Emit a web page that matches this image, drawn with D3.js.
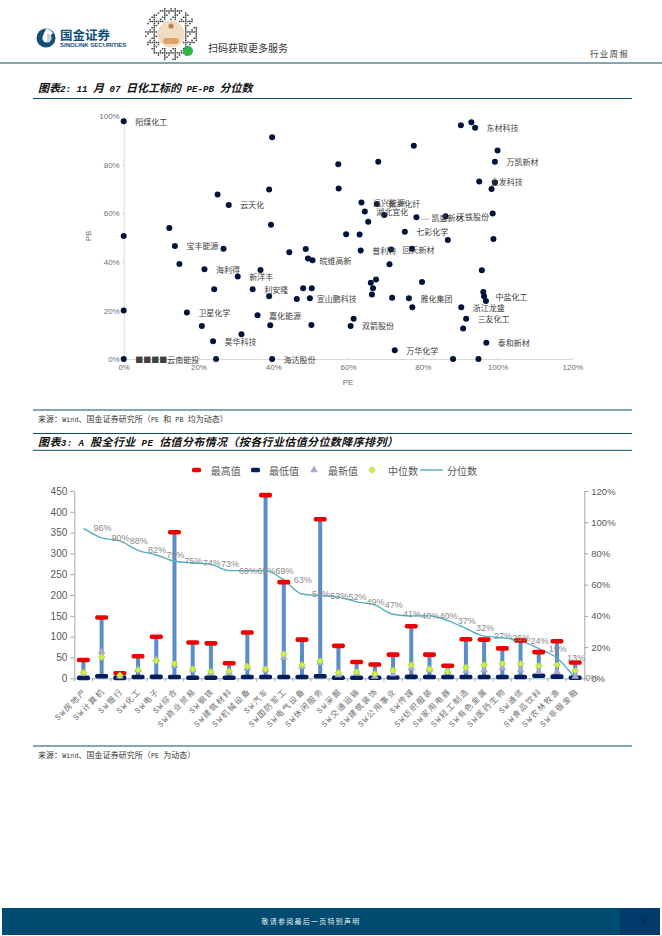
<!DOCTYPE html>
<html><head><meta charset="utf-8">
<script src="https://cdnjs.cloudflare.com/ajax/libs/d3/7.8.5/d3.min.js"></script>
<style>html,body{margin:0;padding:0;background:#fff}svg{display:block}</style></head>
<body><svg id="c" width="662" height="936"></svg>
<script>
// ---- Figure 2: scatter
const scatterPE=[0,39.7,57.4,25.1,38.9,57.5,28.1,12.2,39.4,0,59.5,13.7,26.7,44.3,48.7,90.2,93,94,77.6,68.1,100,99.3,95.1,99.3,98.4,63.6,67.7,64.5,69.7,65.4,78.3,86.1,98.7,63.1,75.2,86.7,98.9,63.4,71.5,77.1,14.9,21.6,30.5,36.6,49.3,50.5,24.2,34.5,38.9,48,50.3,46.3,49.8,0,16.9,35.8,20.9,39.2,50.2,31.5,23.9,0,24.7,39.7,71.1,95.8,67.5,66.1,66.7,66.4,79.8,71.8,76.3,77.2,96.2,96.4,96.9,90.3,91.6,61.5,60.7,90.8,97,72.5,88.1,94.9];
const scatterPB=[98,91.4,80.2,67.8,69.8,70.2,63.5,54,55.3,50.7,51.4,46.6,45.4,44,45.3,96.3,97.5,95.3,87.9,81.3,85.9,81.3,73.1,72.7,70,64.5,63.9,60.8,59.3,56.5,58.4,58.8,60,51.3,52.4,49,49.4,44.7,45.1,45.4,39.1,37,34,36.7,41.4,40.7,28.7,28.7,25.9,29.2,29.2,24.7,25,20,19.2,18,13.6,13.9,14,10.2,7.3,0,0,0,39,36.6,32.8,31.4,29.2,26.6,31.7,25.2,25,21.3,27.6,25.9,23.9,21.3,16.6,16.6,13.6,12.6,6.7,3.6,0,0];
const scatterNames=["阳煤化工","","","","","","云天化","","","","","宝丰能源","","","","","","东材科技","","","","万凯新材","金发科技","","","远兴能源","新乡化纤","湖北宜化","","","凯盛新材","天铁股份","","","七彩化学","","","普利特","回天新材","","","海利得","新洋丰","","","皖维高新","","利安隆","","","","","宣山鹏科技","","卫星化学","嘉化能源","","","","","昊华科技","■■■■云南能投","","海达股份","","","","","","","","","雅化集团","","","中盐化工","","浙江龙盛","三友化工","","双箭股份","","泰和新材","万华化学","",""];
const scatterXTicks=[0,20,40,60,80,100,120];
const scatterYTicks=[0,20,40,60,80,100];

// ---- Figure 3: industry PE distribution
const industries=["SW房地产","SW计算机","SW银行","SW化工","SW电子","SW综合","SW商业贸易","SW钢铁","SW建筑材料","SW机械设备","SW汽车","SW国防军工","SW电气设备","SW休闲服务","SW采掘","SW交通运输","SW建筑装饰","SW公用事业","SW传媒","SW纺织服装","SW家用电器","SW轻工制造","SW有色金属","SW医药生物","SW通信","SW食品饮料","SW农林牧渔","SW非银金融"];
const peMax=[44,146,12,53,100,351,86,84,36,110,440,231,93,382,78,39,33,57,125,57,30,94,93,72,91,63,89,38];
const peMin=[1,5,1,3,3.5,3,1.5,1.5,1.5,3,3,3,3,5,1.5,1.5,1.5,2,3.5,3,3,3,3,3,3,6,4,1.5];
const peLatest=[11,64,5,20,45,30,20,13,14,25,20,50,28,38,8,12,4,10,25,22,16,18,20,25,20,16,16,4];
const peMedian=[14,51,7,20,42,35,22,16,17,29,22,58,32,41,13.5,15,10.5,19,32,22,16,26,32,35,35,30,32,18];
const pePercentile=[96,90,88,82,79,75,74,73,69,69,69,63,54,53,52,49,47,41,40,40,37,32,27,26,24,19,13,0];
const leftTicks=[0,50,100,150,200,250,300,350,400,450];
const rightTicks=[0,20,40,60,80,100,120];
const legendItems=["最高值","最低值","最新值","中位数","分位数"];

const svg=d3.select("#c");
const teal="#0f4a66", CJK='"Noto Sans CJK SC"', LAT='"Liberation Sans",'+CJK, MONO='"Liberation Mono",'+CJK;
function txt(x,y,s,o={}){return svg.append("text").attr("x",x).attr("y",y).attr("dominant-baseline","central")
 .attr("font-family",o.f||CJK).attr("font-size",o.s||8).attr("fill",o.c||"#404040").attr("text-anchor",o.a||"start")
 .attr("font-weight",o.w||400).attr("font-style",o.i||"normal").attr("letter-spacing",o.ls||0).text(s);}
// mixed run: full-width CJK glyphs at size s, half-width mono Latin glyphs
function mixed(x,y,s,o){
 const t=svg.append("text").attr("x",x).attr("y",y).attr("fill",o.c).attr("font-weight",o.w||400).attr("font-style",o.i||"normal").attr("letter-spacing",o.ls||0).style("white-space","pre");
 s.match(/[\x20-\x7e]+|[^\x20-\x7e]+/g).forEach(r=>{
  const lat=/^[\x20-\x7e]/.test(r);
  t.append("tspan").attr("font-family",lat?'"Liberation Mono"':CJK).attr("font-size",lat?o.s*.833:o.s).text(r);
 });
 return t;
}
function rule(x1,x2,y,w=1,c=teal){svg.append("line").attr("x1",x1).attr("x2",x2).attr("y1",y).attr("y2",y).attr("stroke",c).attr("stroke-width",w);}

// ---- Header
svg.append("circle").attr("cx",46).attr("cy",38).attr("r",9.5).attr("fill","#0f4f78");
svg.append("path").attr("d","M46 29 a9 9 0 0 1 7 4 l-3 3 a5 5 0 0 0 -7 -1 z").attr("fill","#fff");
svg.append("circle").attr("cx",47).attr("cy",38).attr("r",4.6).attr("fill","#fff");
svg.append("path").attr("d","M47 33.4 a4.6 4.6 0 0 1 0 9.2 z").attr("fill","#0f4f78").attr("opacity",.25);
txt(60,34,"国金证券",{s:12.5,w:700,c:"#0f4f78"});
txt(60,44.7,"SINOLINK SECURITIES",{s:6,w:700,c:"#0f4f78",f:LAT});
// QR-like ring (decorative, deterministic pattern)
const qr=svg.append("g");
for(let i=0;i<25;i++)for(let j=0;j<25;j++){
  const dx=i-12,dy=j-12,r=Math.hypot(dx,dy);
  if(r<6.8||r>12.4)continue;
  if(((i*7+j*13+i*j*3)%5)<3)continue;
  qr.append("rect").attr("x",171+dx*2.1-.7).attr("y",34+dy*2.1-.7).attr("width",1.5).attr("height",1.5).attr("fill","#3a3a3a");
}
qr.append("circle").attr("cx",171).attr("cy",34).attr("r",13.5).attr("fill","#f0dcc0");
qr.append("circle").attr("cx",171).attr("cy",26).attr("r",2.6).attr("fill","#b9854d");
qr.append("rect").attr("x",163).attr("y",38).attr("width",16).attr("height",6).attr("rx",3).attr("fill","#d8a66a");
qr.append("circle").attr("cx",188).attr("cy",51).attr("r",5).attr("fill","#2fb34a");
txt(208,47,"扫码获取更多服务",{s:10,c:"#333"});
txt(590,53,"行业周报",{s:8.5,c:"#444",ls:1.3});
rule(0,662,63,1);

// ---- Figure 2 heading
mixed(38,92,"图表2: 11 月 07 日化工标的 PE-PB 分位数",{s:11,w:700,i:"italic",c:"#111"});
rule(33,632,98.5,1);

// ---- Scatter
const sx=d3.scaleLinear().domain([0,120]).range([123.7,572.3]);
const sy=d3.scaleLinear().domain([0,100]).range([359,116.3]);
function styleAxis(g,lc,tc,fs){g.selectAll("path,line").attr("stroke",lc);g.select("path").attr("stroke-width",1);
 g.selectAll("text").attr("fill",tc).attr("font-size",fs).attr("font-family",LAT);}
svg.append("g").attr("transform","translate(0,359)")
 .call(d3.axisBottom(sx).tickValues(scatterXTicks).tickFormat(d=>d+"%").tickSize(-2).tickSizeOuter(0).tickPadding(5))
 .call(styleAxis,"#d9d9d9","#6f6f6f",8);
svg.append("g").attr("transform","translate(123.7,0)")
 .call(d3.axisLeft(sy).tickValues(scatterYTicks).tickFormat(d=>d+"%").tickSize(2).tickSizeOuter(0).tickPadding(2))
 .call(styleAxis,"#d9d9d9","#6f6f6f",8);
txt(348,382,"PE",{s:8,a:"middle",c:"#6f6f6f",f:LAT});
svg.append("text").attr("transform","translate(88,236) rotate(-90)").attr("text-anchor","middle").attr("dominant-baseline","central")
 .attr("font-family",LAT).attr("font-size",8).attr("fill","#6f6f6f").text("PB");

const pts=d3.range(scatterPE.length).map(i=>({x:scatterPE[i],y:scatterPB[i],n:scatterNames[i]}));
svg.append("g").selectAll("circle").data(pts).join("circle")
 .attr("cx",d=>sx(d.x)).attr("cy",d=>sy(d.y)).attr("r",3).attr("fill","#00133a");
const labelDx={"皖维高新":7,"宣山鹏科技":7,"凯盛新材":15};
svg.append("g").selectAll("text").data(pts.filter(d=>d.n)).join("text")
 .attr("x",d=>sx(d.x)+(labelDx[d.n]||11.5)).attr("y",d=>sy(d.y)).attr("dominant-baseline","central")
 .attr("font-family",CJK).attr("font-size",8).attr("fill","#404040").text(d=>d.n);
const lead=pts.find(d=>d.n==="凯盛新材");
svg.append("line").attr("x1",sx(lead.x)+5).attr("x2",sx(lead.x)+13).attr("y1",sy(lead.y)+2).attr("y2",sy(lead.y)+2).attr("stroke","#999").attr("stroke-width",.7);

// ---- Figure 2 source, Figure 3 heading
rule(33,632,410,1);
mixed(38,421.5,"来源：Wind、国金证券研究所（PE 和 PB 均为动态）",{s:7.9,c:"#333",ls:.15});
rule(33,632,433.5,1);
mixed(38,445.5,"图表3: A 股全行业 PE 估值分布情况（按各行业估值分位数降序排列）",{s:11,w:700,i:"italic",c:"#111",ls:.38});
rule(33,632,450.3,1);

// ---- Combo chart
const bx=d3.scaleBand().domain(industries).range([74.3,584.3]);
const ly=d3.scaleLinear().domain([0,450]).range([678.3,491]);
const ry=d3.scaleLinear().domain([0,120]).range([678.3,491]);
const cx=c=>bx(c)+bx.bandwidth()/2;
const rows=industries.map((c,i)=>({c,max:peMax[i],min:peMin[i],latest:peLatest[i],med:peMedian[i],pct:pePercentile[i]}));

svg.append("g").attr("transform","translate(74.3,0)")
 .call(d3.axisLeft(ly).tickValues(leftTicks).tickSize(4).tickSizeOuter(0).tickPadding(3))
 .call(styleAxis,"#a6a6a6","#595959",10);
svg.append("g").attr("transform","translate(584.3,0)")
 .call(d3.axisRight(ry).tickValues(rightTicks).tickFormat(d=>d+"%").tickSize(4).tickSizeOuter(0).tickPadding(3))
 .call(styleAxis,"#a6a6a6","#595959",9.5);
const xa=svg.append("g").attr("transform","translate(0,678.3)")
 .call(d3.axisBottom(bx).tickSize(0).tickFormat(""));
xa.select("path").attr("stroke","#9fb2c8");
svg.append("g").selectAll("line").data(industries.concat(["__end"])).join("line")
 .attr("x1",(d,i)=>74.3+i*bx.step()).attr("x2",(d,i)=>74.3+i*bx.step()).attr("y1",678.3).attr("y2",681.5).attr("stroke","#9fb2c8");
svg.append("g").selectAll("text").data(industries).join("text")
 .attr("transform",d=>`translate(${cx(d)+2},690) rotate(-45)`).attr("text-anchor","end").attr("dominant-baseline","central")
 .attr("font-family",MONO).attr("font-size",8).attr("letter-spacing",1.5).attr("fill","#6f6f6f").text(d=>d);

const stemG=svg.append("g");
stemG.selectAll("rect").data(rows).join("rect").attr("x",d=>cx(d.c)-2).attr("width",4)
 .attr("y",d=>ly(d.max)).attr("height",d=>ly(d.min)-ly(d.max)).attr("fill","#5b8dc9");
const line=d3.line().x(d=>cx(d.c)).y(d=>ry(d.pct)).curve(d3.curveMonotoneX);
svg.append("path").attr("d",line(rows)).attr("fill","none").attr("stroke","#52aebf").attr("stroke-width",1.4);
function cap(key,color){svg.append("g").selectAll("rect").data(rows).join("rect")
 .attr("x",d=>cx(d.c)-6.5).attr("width",13).attr("y",d=>ly(d[key])-2.3).attr("height",4.6).attr("rx",1.8).attr("fill",color);}
cap("max","#f00000");cap("min","#04205c");
const tri=d3.symbol().type(d3.symbolTriangle).size(26), dia=d3.symbol().type(d3.symbolSquare).size(22);
svg.append("g").selectAll("path").data(rows).join("path").attr("d",tri)
 .attr("transform",d=>`translate(${cx(d.c)},${ly(d.latest)})`).attr("fill","#aaa8d2");
svg.append("g").selectAll("path").data(rows).join("path").attr("d",dia)
 .attr("transform",d=>`translate(${cx(d.c)},${ly(d.med)}) rotate(45)`).attr("fill","#d2f03a").attr("stroke","#9ed65a").attr("stroke-width",.8);
svg.append("g").selectAll("text").data(rows).join("text")
 .attr("x",d=>cx(d.c)+10).attr("y",d=>ry(d.pct)).attr("dominant-baseline","central")
 .attr("font-family",LAT).attr("font-size",9).attr("fill","#8a8a8a").text(d=>d.pct+"%");

// Legend
const ly0=470;
svg.append("rect").attr("x",192).attr("y",ly0-2.2).attr("width",9).attr("height",4.4).attr("rx",1.5).attr("fill","#f00000");
txt(210.7,ly0,legendItems[0],{s:10,c:"#595959"});
svg.append("rect").attr("x",251).attr("y",ly0-2.2).attr("width",9).attr("height",4.4).attr("rx",1.5).attr("fill","#04205c");
txt(269,ly0,legendItems[1],{s:10,c:"#595959"});
svg.append("path").attr("d",tri).attr("transform",`translate(314,${ly0})`).attr("fill","#aaa8d2");
txt(328,ly0,legendItems[2],{s:10,c:"#595959"});
svg.append("path").attr("d",dia).attr("transform",`translate(372,${ly0}) rotate(45)`).attr("fill","#d2f03a").attr("stroke","#9ed65a").attr("stroke-width",.8);
txt(388,ly0,legendItems[3],{s:10,c:"#595959"});
svg.append("line").attr("x1",420).attr("x2",443).attr("y1",ly0).attr("y2",ly0).attr("stroke","#52aebf").attr("stroke-width",1.4);
txt(447,ly0,legendItems[4],{s:10,c:"#595959"});

rule(33,632,746,1);
mixed(38,757.5,"来源：Wind、国金证券研究所（PE 为动态）",{s:7.9,c:"#333",ls:.15});

// ---- Footer
svg.append("rect").attr("x",2).attr("y",908).attr("width",618).attr("height",27).attr("fill","#004b70");
svg.append("rect").attr("x",620).attr("y",908).attr("width",40).attr("height",27).attr("fill","#013a6b");
txt(311,921,"敬请参阅最后一页特别声明",{s:7,c:"#e6eef2",a:"middle",ls:1.25});
txt(644,921,"5",{s:9,c:"#0a2a55",a:"middle",w:700,f:LAT});
</script></body></html>
